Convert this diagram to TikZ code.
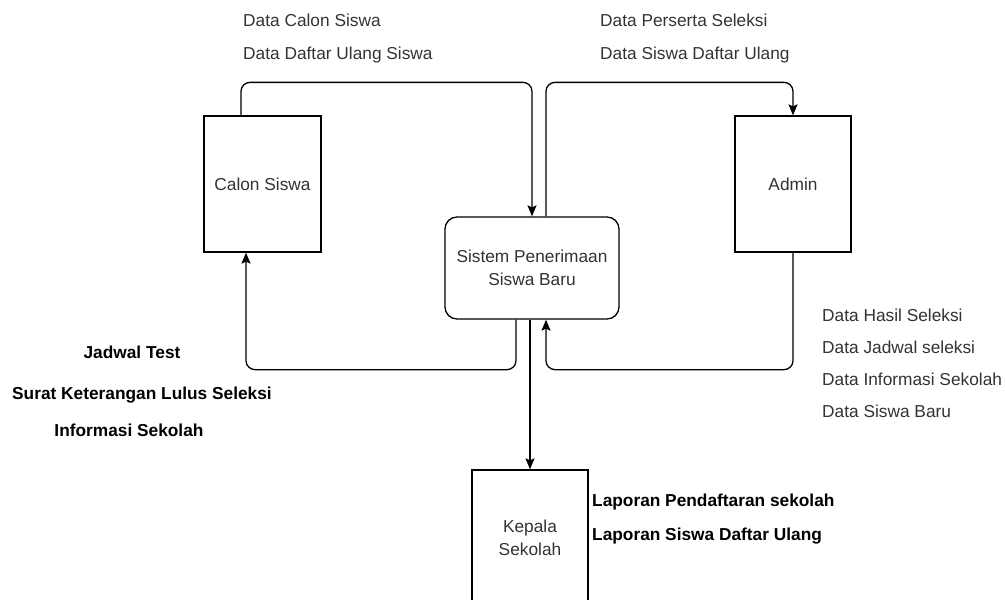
\documentclass[tikz,border=0pt]{standalone}
\usepackage{fontspec}
\setmainfont{Liberation Sans}
\usetikzlibrary{arrows.meta}
\definecolor{txt}{HTML}{333333}
\tikzset{
  ent/.style={draw=black, line width=1.3pt, fill=white, text=txt, align=center, inner sep=0pt,
    font=\fontsize{17.3}{23.5}\selectfont},
  proc/.style={ent, rounded corners=12pt},
  flow/.style={draw=black, line width=1.3pt, rounded corners=9pt,
    -{Stealth[length=11pt,width=9pt,inset=2pt]}},
  lbl/.style={text=txt, anchor=west, inner sep=0pt, font=\fontsize{17.3}{20}\selectfont},
  lblk/.style={text=black, inner sep=0pt, font=\fontsize{17.3}{20}\selectfont\bfseries},
}
\begin{document}
\begin{tikzpicture}[x=1pt,y=-1pt]
\useasboundingbox (0,0) rectangle (1005,600);
\clip (0,0) rectangle (1005,600);
% entities
\node[ent, minimum width=117pt, minimum height=136pt] (calon) at (262.5,184) {Calon Siswa};
\node[ent, minimum width=116pt, minimum height=136pt] (admin) at (793,184) {Admin};
\node[proc, minimum width=174pt, minimum height=102pt] (sys) at (532,268) {Sistem Penerimaan\\Siswa Baru};
\node[ent, minimum width=116pt, minimum height=140pt] (kepala) at (530,540) {};
\node[text=txt, align=center, inner sep=0pt, font=\fontsize{17.3}{23.5}\selectfont] (kepalat) at (530,538) {Kepala\\Sekolah};
% flows
\draw[flow] ([xshift=-21.5pt]calon.north) -- ++(0,-33) -| (sys.north);
\draw[flow] ([xshift=14pt]sys.north) -- ++(0,-134) -| (admin.north);
\draw[flow] ([xshift=-16pt]sys.south) -- ++(0,50) -| ([xshift=-16.5pt]calon.south);
\draw[flow] (admin.south) -- ++(0,117) -| ([xshift=14pt]sys.south);
\draw[flow] (sys.south -| kepala.north) -- (kepala.north);
% labels
\node[lbl] (l1) at (243,20) {Data Calon Siswa};
\node[lbl] (l2) at (243,55) {Data Daftar Ulang Siswa};
\node[lbl] (l3) at (600,20) {Data Perserta Seleksi};
\node[lbl] (l4) at (600,55) {Data Siswa Daftar Ulang};
\node[lbl] (r1) at (822,315) {Data Hasil Seleksi};
\node[lbl] (r2) at (822,347) {Data Jadwal seleksi};
\node[lbl] (r3) at (822,379) {Data Informasi Sekolah};
\node[lbl] (r4) at (822,411) {Data Siswa Baru};
\node[lblk] (j1) at (132,352) {Jadwal Test};
\node[lblk] (j2) at (142,395) {Surat Keterangan Lulus Seleksi};
\node[lblk] (j3) at (129,430) {Informasi Sekolah};
\node[lblk, anchor=west] (k1) at (592,502) {Laporan Pendaftaran sekolah};
\node[lblk, anchor=west] (k2) at (592,536) {Laporan Siswa Daftar Ulang};
\end{tikzpicture}
\end{document}
